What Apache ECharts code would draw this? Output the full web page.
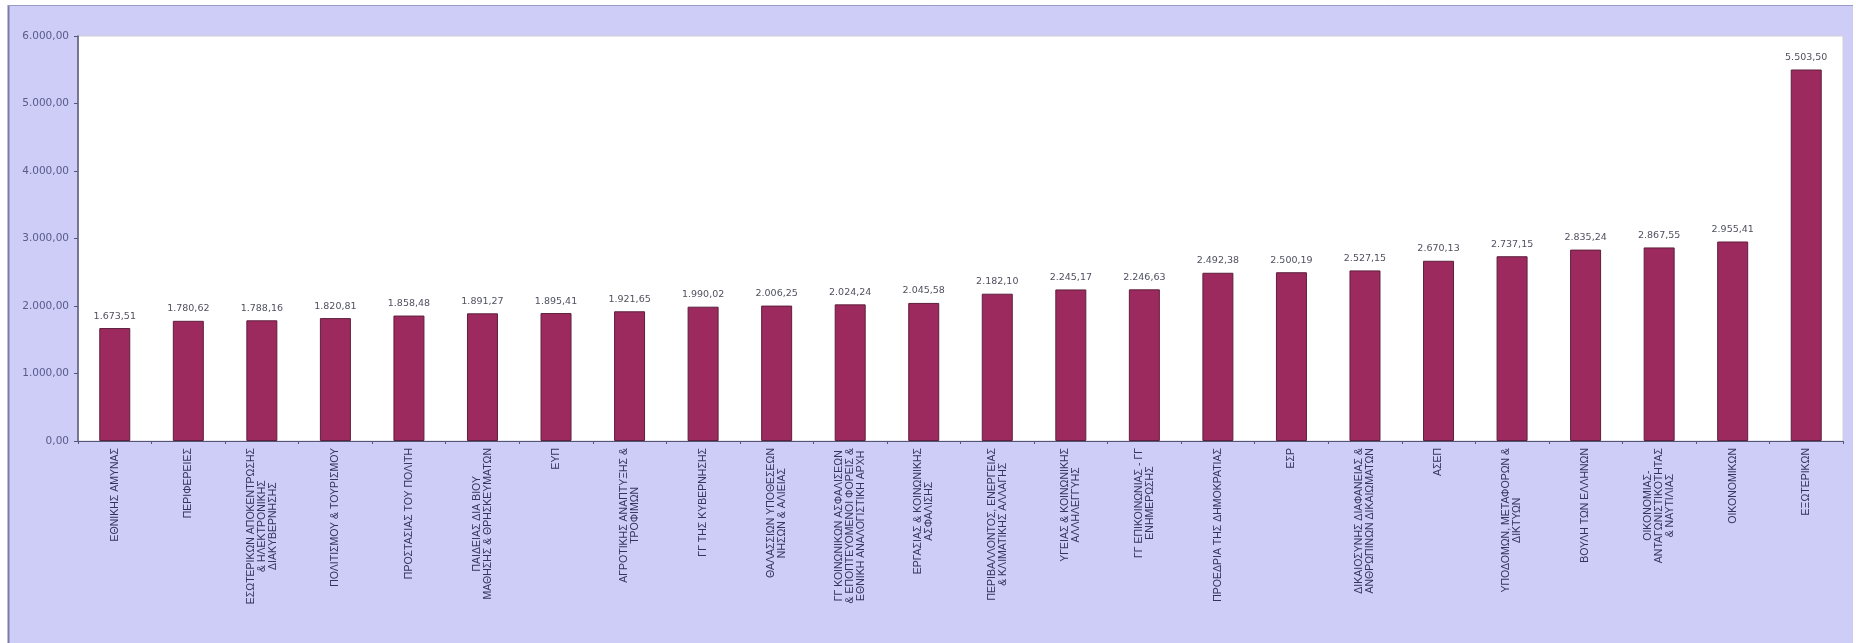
<!DOCTYPE html>
<html>
<head>
<meta charset="utf-8">
<script src="https://cdn.jsdelivr.net/npm/echarts@6/dist/echarts.min.js"></script>
<style>
html,body{margin:0;padding:0;background:#ffffff;}
#c{width:1856px;height:643px;}
</style>
</head>
<body>
<div id="c"></div>
<script>
const categories = [
  "ΕΘΝΙΚΗΣ ΑΜΥΝΑΣ",
  "ΠΕΡΙΦΕΡΕΙΕΣ",
  "ΕΣΩΤΕΡΙΚΩΝ ΑΠΟΚΕΝΤΡΩΣΗΣ\n& ΗΛΕΚΤΡΟΝΙΚΗΣ\nΔΙΑΚΥΒΕΡΝΗΣΗΣ",
  "ΠΟΛΙΤΙΣΜΟΥ & ΤΟΥΡΙΣΜΟΥ",
  "ΠΡΟΣΤΑΣΙΑΣ ΤΟΥ ΠΟΛΙΤΗ",
  "ΠΑΙΔΕΙΑΣ ΔΙΑ ΒΙΟΥ\nΜΑΘΗΣΗΣ & ΘΡΗΣΚΕΥΜΑΤΩΝ",
  "ΕΥΠ",
  "ΑΓΡΟΤΙΚΗΣ ΑΝΑΠΤΥΞΗΣ &\nΤΡΟΦΙΜΩΝ",
  "ΓΓ ΤΗΣ ΚΥΒΕΡΝΗΣΗΣ",
  "ΘΑΛΑΣΣΙΩΝ ΥΠΟΘΕΣΕΩΝ\nΝΗΣΩΝ & ΑΛΙΕΙΑΣ",
  "ΓΓ ΚΟΙΝΩΝΙΚΩΝ ΑΣΦΑΛΙΣΕΩΝ\n& ΕΠΟΠΤΕΥΟΜΕΝΟΙ ΦΟΡΕΙΣ &\nΕΘΝΙΚΗ ΑΝΑΛΟΓΙΣΤΙΚΗ ΑΡΧΗ",
  "ΕΡΓΑΣΙΑΣ & ΚΟΙΝΩΝΙΚΗΣ\nΑΣΦΑΛΙΣΗΣ",
  "ΠΕΡΙΒΑΛΛΟΝΤΟΣ, ΕΝΕΡΓΕΙΑΣ\n& ΚΛΙΜΑΤΙΚΗΣ ΑΛΛΑΓΗΣ",
  "ΥΓΕΙΑΣ & ΚΟΙΝΩΝΙΚΗΣ\nΑΛΛΗΛΕΓΓΥΗΣ",
  "ΓΓ ΕΠΙΚΟΙΝΩΝΙΑΣ - ΓΓ\nΕΝΗΜΕΡΩΣΗΣ",
  "ΠΡΟΕΔΡΙΑ ΤΗΣ ΔΗΜΟΚΡΑΤΙΑΣ",
  "ΕΣΡ",
  "ΔΙΚΑΙΟΣΥΝΗΣ ΔΙΑΦΑΝΕΙΑΣ &\nΑΝΘΡΩΠΙΝΩΝ ΔΙΚΑΙΩΜΑΤΩΝ",
  "ΑΣΕΠ",
  "ΥΠΟΔΟΜΩΝ, ΜΕΤΑΦΟΡΩΝ &\nΔΙΚΤΥΩΝ",
  "ΒΟΥΛΗ ΤΩΝ ΕΛΛΗΝΩΝ",
  "ΟΙΚΟΝΟΜΙΑΣ-\nΑΝΤΑΓΩΝΙΣΤΙΚΟΤΗΤΑΣ\n& ΝΑΥΤΙΛΙΑΣ",
  "ΟΙΚΟΝΟΜΙΚΩΝ",
  "ΕΞΩΤΕΡΙΚΩΝ"
];
const values = [
  1673.51, 1780.62, 1788.16, 1820.81, 1858.48, 1891.27, 1895.41, 1921.65,
  1990.02, 2006.25, 2024.24, 2045.58, 2182.10, 2245.17, 2246.63, 2492.38,
  2500.19, 2527.15, 2670.13, 2737.15, 2835.24, 2867.55, 2955.41, 5503.50
];
const yTicks = [0, 1000, 2000, 3000, 4000, 5000, 6000];

function fmtGr(v) {
  const s = Number(v).toFixed(2);
  let [i, d] = s.split('.');
  i = i.replace(/\B(?=(\d{3})+(?!\d))/g, '.');
  return i + ',' + d;
}

const chart = echarts.init(document.getElementById('c'), null, {renderer: 'canvas'});
chart.setOption({
  backgroundColor: 'transparent',
  animation: false,
  graphic: [
    {type: 'rect', silent: true, z: -10, shape: {x: 8, y: 5, width: 1845, height: 640},
     style: {fill: '#cdcdf7'}},
    {type: 'line', silent: true, z: -9, shape: {x1: 8.5, y1: 5, x2: 8.5, y2: 643},
     style: {stroke: '#7c7ca6', lineWidth: 2}},
    {type: 'line', silent: true, z: -9, shape: {x1: 8, y1: 5.5, x2: 1853, y2: 5.5},
     style: {stroke: '#9a9ac4', lineWidth: 1}}
  ],
  grid: {
    left: 78, right: 13, top: 36, bottom: 202,
    show: true, backgroundColor: '#ffffff', borderColor: '#d0d0d8', borderWidth: 1
  },
  xAxis: {
    type: 'category',
    data: categories,
    boundaryGap: true,
    axisLine: {lineStyle: {color: '#55557a', width: 1}},
    axisTick: {show: true, length: 3, lineStyle: {color: '#55557a'}},
    axisLabel: {
      interval: 0,
      rotate: 90,
      margin: 7,
      fontFamily: 'Liberation Sans',
      fontSize: 10.5,
      color: '#33335e',
      lineHeight: 11,
      formatter: function (v) {
        return v.split('\n').map(function (l) { return '{c|' + l + '}'; }).join('\n');
      },
      rich: {
        c: {align: 'center', fontFamily: 'Liberation Sans', fontSize: 10.5, lineHeight: 11, color: '#33335e'}
      }
    }
  },
  yAxis: {
    type: 'value',
    min: yTicks[0],
    max: yTicks[yTicks.length - 1],
    interval: 1000,
    splitLine: {show: false},
    axisLine: {show: true, lineStyle: {color: '#55557a', width: 1.5}},
    axisTick: {show: true, length: 4, lineStyle: {color: '#55557a'}},
    axisLabel: {
      margin: 9,
      fontFamily: 'DejaVu Sans',
      fontSize: 10.5,
      color: '#5a5a8c',
      formatter: function (v) { return fmtGr(v); }
    }
  },
  series: [{
    type: 'bar',
    data: values,
    barWidth: 31,
    itemStyle: {color: '#9c2a5e', borderColor: '#5e1f3c', borderWidth: 1},
    label: {
      show: true,
      position: 'top',
      distance: 7,
      fontFamily: 'DejaVu Sans',
      fontSize: 9.5,
      color: '#505060',
      formatter: function (p) { return fmtGr(p.value); }
    }
  }]
});
</script>
</body>
</html>
